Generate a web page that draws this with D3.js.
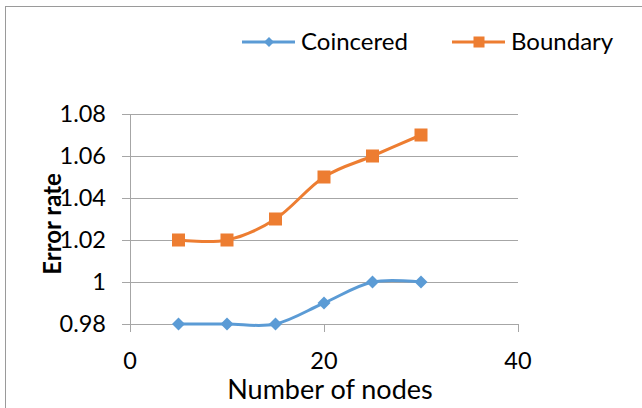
<!DOCTYPE html>
<html><head><meta charset="utf-8">
<script src="https://cdn.jsdelivr.net/npm/d3@7/dist/d3.min.js"></script>
<style>
html,body{margin:0;padding:0;background:#fff;}
svg{display:block;font-family:Lato,"Open Sans",sans-serif;}
</style></head>
<body>
<svg id="chart" width="642" height="408"></svg>
<script>
const nodes = [5, 10, 15, 20, 25, 30];
const coincered = [0.98, 0.98, 0.98, 0.99, 1.00, 1.00];
const boundary = [1.02, 1.02, 1.03, 1.05, 1.06, 1.07];
const seriesNames = ["Coincered", "Boundary"];
const seriesColors = ["#5B9BD5", "#ED7D31"];
const xTicks = [0, 20, 40];
const yTicks = [0.98, 1.00, 1.02, 1.04, 1.06, 1.08];
const yTickLabels = ["0.98", "1", "1.02", "1.04", "1.06", "1.08"];
const xTitle = "Number of nodes";
const yTitle = "Error rate";

const svg = d3.select("#chart");
const grid = "#a6a6a6";

// chart border
svg.append("rect").attr("x", 5.5).attr("y", 6.5).attr("width", 660).attr("height", 420)
  .attr("fill", "none").attr("stroke", "#9a9a9a").attr("stroke-width", 1);

const x = d3.scaleLinear().domain([0, 40]).range([130, 518]);
const y = d3.scaleLinear().domain([0.98, 1.08]).range([324, 114]);

// gridlines
svg.append("g").selectAll("line").data(yTicks).join("line")
  .attr("x1", 122).attr("x2", x(40))
  .attr("y1", d => Math.round(y(d)) + 0.5).attr("y2", d => Math.round(y(d)) + 0.5)
  .attr("stroke", grid).attr("stroke-width", 1);

// y axis line
svg.append("line").attr("x1", 130.5).attr("x2", 130.5).attr("y1", y(1.08)).attr("y2", 332)
  .attr("stroke", grid);
// x ticks
svg.append("g").selectAll("line").data(xTicks).join("line")
  .attr("x1", d => Math.round(x(d)) + 0.5).attr("x2", d => Math.round(x(d)) + 0.5)
  .attr("y1", y(0.98)).attr("y2", 332).attr("stroke", grid);

// tick labels
svg.append("g").selectAll("text").data(yTicks).join("text")
  .attr("x", 106).attr("y", d => y(d)).attr("dy", "0.36em")
  .attr("text-anchor", "end").attr("font-size", 23.5).attr("fill", "#000")
  .text((d, i) => yTickLabels[i]);
svg.append("g").selectAll("text").data(xTicks).join("text")
  .attr("x", d => x(d)).attr("y", 368.5)
  .attr("text-anchor", "middle").attr("font-size", 23.5).attr("fill", "#000")
  .text(d => d);

// axis titles
svg.append("text").attr("x", 330).attr("y", 399).attr("text-anchor", "middle")
  .attr("font-size", 27).attr("fill", "#000").text(xTitle);
svg.append("text").attr("transform", "translate(61,224) rotate(-90)").attr("text-anchor", "middle")
  .attr("font-size", 24).attr("font-weight", "bold").attr("fill", "#000").text(yTitle);

// lines
const line = d3.line().x(d => x(d[0])).y(d => y(d[1])).curve(d3.curveCatmullRom.alpha(0));
const data = [coincered, boundary].map(vals => nodes.map((n, i) => [n, vals[i]]));

data.forEach((pts, si) => {
  svg.append("path").datum(pts).attr("d", line).attr("fill", "none")
    .attr("stroke", seriesColors[si]).attr("stroke-width", 3).attr("stroke-linejoin", "round");
});
// markers
const diamond = (cx, cy, r) => `M${cx},${cy - r}L${cx + r},${cy}L${cx},${cy + r}L${cx - r},${cy}Z`;
svg.append("g").selectAll("path").data(data[0]).join("path")
  .attr("d", d => diamond(x(d[0]), y(d[1]), 6.5)).attr("fill", seriesColors[0]);
svg.append("g").selectAll("rect").data(data[1]).join("rect")
  .attr("x", d => x(d[0]) - 6.5).attr("y", d => y(d[1]) - 6.5)
  .attr("width", 13).attr("height", 13).attr("fill", seriesColors[1]);

// legend
const legendX = [242, 452];
seriesNames.forEach((name, i) => {
  const g = svg.append("g");
  const lx = legendX[i];
  g.append("line").attr("x1", lx).attr("x2", lx + 53).attr("y1", 42).attr("y2", 42)
    .attr("stroke", seriesColors[i]).attr("stroke-width", 3);
  if (i === 0) g.append("path").attr("d", diamond(lx + 27, 42, 5)).attr("fill", seriesColors[i]);
  else g.append("rect").attr("x", lx + 27 - 5.5).attr("y", 42 - 5.5).attr("width", 11).attr("height", 11).attr("fill", seriesColors[i]);
  g.append("text").attr("x", lx + 59).attr("y", 50).attr("font-size", 24).attr("fill", "#000").text(name);
});
</script>
</body></html>
